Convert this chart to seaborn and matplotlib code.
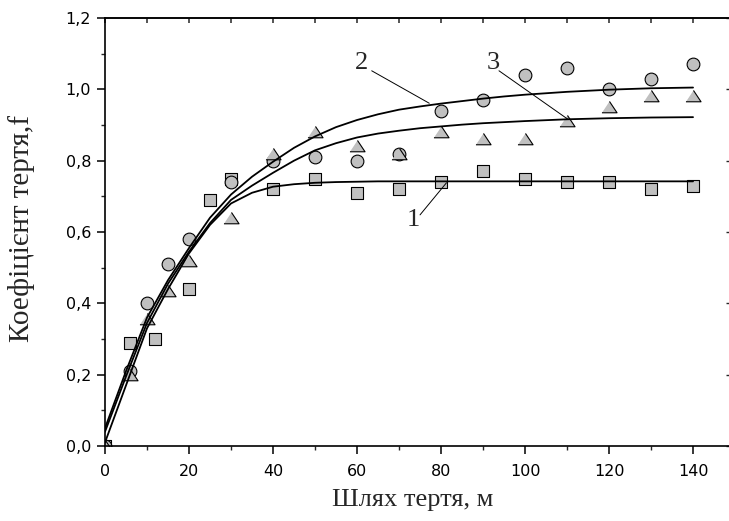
import numpy as np
import pandas as pd
import matplotlib
matplotlib.use("Agg")
import matplotlib.pyplot as plt
import seaborn as sns
from matplotlib.ticker import MultipleLocator, FuncFormatter

# ---- data ----
sq_x = [0, 6, 12, 20, 25, 30, 40, 50, 60, 70, 80, 90, 100, 110, 120, 130, 140]
sq_y = [0, 0.29, 0.30, 0.44, 0.69, 0.75, 0.72, 0.75, 0.71, 0.72, 0.74, 0.77, 0.75, 0.74, 0.74, 0.72, 0.73]

ci_x = [0, 6, 10, 15, 20, 30, 40, 50, 60, 70, 80, 90, 100, 110, 120, 130, 140]
ci_y = [0, 0.21, 0.40, 0.51, 0.58, 0.74, 0.80, 0.81, 0.80, 0.82, 0.94, 0.97, 1.04, 1.06, 1.00, 1.03, 1.07]

tr_x = [0, 6, 10, 15, 20, 30, 40, 50, 60, 70, 80, 90, 100, 110, 120, 130, 140]
tr_y = [0, 0.20, 0.355, 0.435, 0.52, 0.64, 0.82, 0.88, 0.84, 0.82, 0.88, 0.86, 0.86, 0.91, 0.95, 0.98, 0.98]

curve_x = [0, 5, 10, 15, 20, 25, 30, 35, 40, 45, 50, 55, 60, 65, 70, 75, 80, 85, 90, 95,
           100, 110, 120, 130, 140]
curve1_y = [0.01, 0.17, 0.33, 0.44, 0.54, 0.62, 0.68, 0.71, 0.727, 0.734, 0.738, 0.740, 0.741,
            0.742, 0.742, 0.742, 0.742, 0.742, 0.742, 0.742, 0.742, 0.742, 0.742, 0.742, 0.742]
curve2_y = [0.05, 0.21, 0.36, 0.465, 0.555, 0.64, 0.705, 0.755, 0.797, 0.836, 0.868, 0.894, 0.914,
            0.930, 0.943, 0.952, 0.960, 0.967, 0.974, 0.980, 0.985, 0.993, 0.999, 1.003, 1.005]
curve3_y = [0.04, 0.195, 0.345, 0.455, 0.545, 0.625, 0.69, 0.73, 0.766, 0.800, 0.829, 0.849, 0.865,
            0.876, 0.884, 0.891, 0.896, 0.901, 0.905, 0.908, 0.911, 0.916, 0.919, 0.921, 0.922]

labels = ["1", "2", "3"]
label_text_xy = [(73.4, 0.634), (61.1, 1.075), (92.5, 1.075)]
label_line_start = [(75.0, 0.648), (63.5, 1.052), (93.8, 1.052)]
label_line_end = [(81.3, 0.738), (77.2, 0.961), (110.1, 0.917)]

x_label = "Шлях тертя, м"
y_label = "Коефіцієнт тертя,f"

# ---- style ----
sns.set_theme(style="ticks")
plt.rcParams["font.family"] = ["DejaVu Sans"]

W, H, DPI = 729, 521, 100
fig = plt.figure(figsize=(W / DPI, H / DPI), dpi=DPI)
ax = fig.add_axes([105 / W, (H - 446) / H, 625 / W, 428 / H])

fill = "#c0c0c0"
tri = [(-1.0, -0.7), (1.0, -0.7), (0.0, 0.8)]
serif = ["Liberation Serif", "DejaVu Serif"]

df_sq = pd.DataFrame({"x": sq_x, "y": sq_y})
df_ci = pd.DataFrame({"x": ci_x, "y": ci_y})
df_tr = pd.DataFrame({"x": tr_x, "y": tr_y})

sns.scatterplot(data=df_sq, x="x", y="y", ax=ax, marker="s", s=66, color=fill,
                edgecolor="black", linewidth=0.8, zorder=2, legend=False)
sns.scatterplot(data=df_ci, x="x", y="y", ax=ax, marker="o", s=84, color=fill,
                edgecolor="black", linewidth=0.8, zorder=2, legend=False)
sns.scatterplot(data=df_tr, x="x", y="y", ax=ax, marker=tri, s=118, color=fill,
                edgecolor="black", linewidth=0.8, zorder=2, legend=False)

for cy in (curve1_y, curve2_y, curve3_y):
    dfc = pd.DataFrame({"x": curve_x, "y": cy})
    sns.lineplot(data=dfc, x="x", y="y", ax=ax, color="black", linewidth=1.3,
                 estimator=None, sort=True, zorder=3, legend=False)

for lab, txy, ls, le in zip(labels, label_text_xy, label_line_start, label_line_end):
    ax.text(txy[0], txy[1], lab, ha="center", va="center", fontsize=19,
            family=serif, zorder=5)
    ax.plot([ls[0], le[0]], [ls[1], le[1]], color="black", linewidth=0.7, zorder=4)

ax.set_xlim(0, 148.8)
ax.set_ylim(0, 1.2)

ax.xaxis.set_major_locator(MultipleLocator(20))
ax.xaxis.set_minor_locator(MultipleLocator(10))
ax.yaxis.set_major_locator(MultipleLocator(0.2))
ax.yaxis.set_minor_locator(MultipleLocator(0.1))
ax.yaxis.set_major_formatter(FuncFormatter(lambda v, p: f"{v:.1f}".replace(".", ",")))
ax.xaxis.set_major_formatter(FuncFormatter(lambda v, p: f"{v:.0f}"))

ax.tick_params(axis="both", which="major", direction="out", length=6, width=1.1,
               labelsize=11.5, colors="black")
ax.tick_params(axis="both", which="minor", direction="out", length=3, width=1.0)
ax.tick_params(axis="x", which="major", pad=7)
ax.tick_params(axis="y", which="major", pad=4)

for side in ("left", "bottom", "top", "right"):
    ax.spines[side].set_linewidth(1.2)
    ax.spines[side].set_color("black")

secx = ax.secondary_xaxis("top")
secx.xaxis.set_major_locator(MultipleLocator(10))
secx.tick_params(axis="x", direction="in", length=3.5, width=1.1, labeltop=False)
secx.spines["top"].set_linewidth(1.2)

secy = ax.secondary_yaxis("right")
secy.yaxis.set_major_locator(MultipleLocator(0.2))
secy.tick_params(axis="y", direction="in", length=3, width=1.0, labelright=False)

ax.set_xlabel("")
ax.set_ylabel("")
fig.text(413 / W, 1 - 500 / H, x_label, ha="center", va="center", fontsize=19,
         family=serif)
fig.text(22 / W, 1 - 229 / H, y_label, ha="center", va="center", fontsize=21,
         rotation=90, family=serif)

fig.savefig("out.png", dpi=DPI)
